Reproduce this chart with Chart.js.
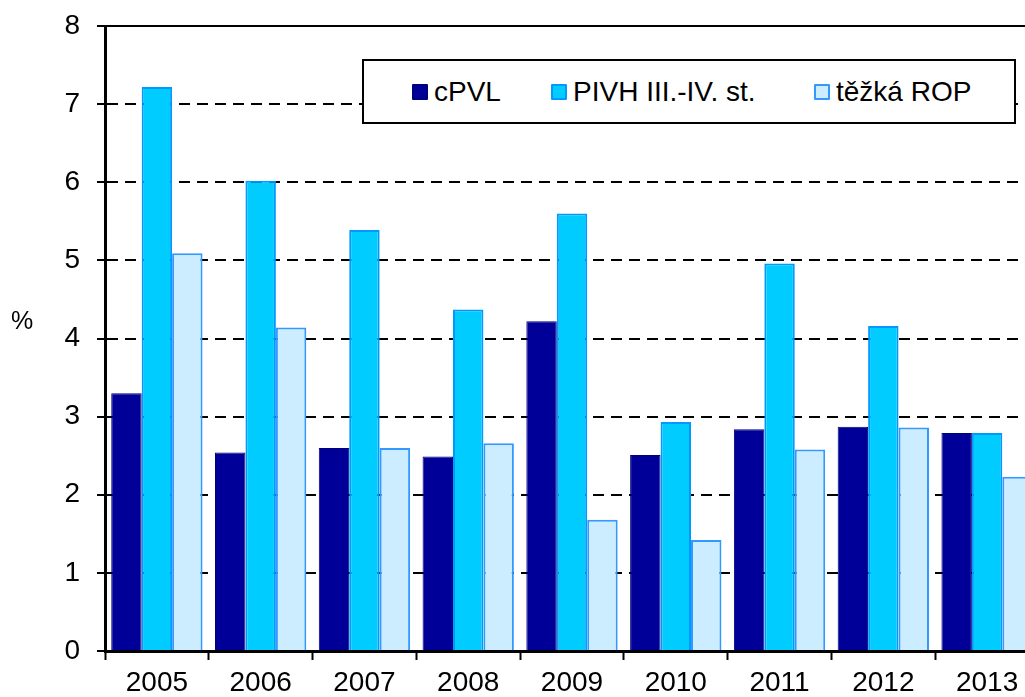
<!DOCTYPE html>
<html>
<head>
<meta charset="utf-8">
<script src="https://cdn.jsdelivr.net/npm/chart.js@4.4.1/dist/chart.umd.min.js"></script>
<style>
  html, body { margin: 0; padding: 0; background: #fff; overflow: hidden; }
  #wrap { position: relative; width: 1045px; height: 697px; }
  #legend {
    position: absolute; left: 362px; top: 59px; width: 650px; height: 61px;
    border: 2px solid #000; background: #fff;
    font-family: "Liberation Sans", Arial, sans-serif; font-size: 28px; color: #000;
  }
  .item { position: absolute; top: 0; height: 61px; display: flex; align-items: center; white-space: nowrap; }
  .box { width: 12px; height: 12px; border: 2px solid; border-radius: 1px; margin-right: 6px; }
  #pct {
    position: absolute; left: 11px; top: 306px;
    font-family: "Liberation Sans", Arial, sans-serif; font-size: 25px; color: #000;
  }
</style>
</head>
<body>
<div id="wrap">
  <canvas id="chart"></canvas>
  <div id="pct">%</div>
  <div id="legend"></div>
</div>
<script>
// data
const years = ["2005", "2006", "2007", "2008", "2009", "2010", "2011", "2012", "2013"];
const cPVL = [3.30, 2.54, 2.60, 2.49, 4.22, 2.51, 2.84, 2.87, 2.79];
const pivh = [7.22, 6.02, 5.39, 4.37, 5.60, 2.93, 4.96, 4.16, 2.79];
const tezkaRop = [5.09, 4.14, 2.60, 2.66, 1.68, 1.42, 2.58, 2.86, 2.23];

const seriesNames = ["cPVL", "PIVH III.-IV. st.", "těžká ROP"];
const fills = ["#000099", "#00CCFF", "#CCECFF"];
const borders = ["#00007A", "#0099FF", "#3399FF"];
const legendLeft = [48, 187, 450]; // px inside legend box

const font = { family: "'Liberation Sans', Arial, sans-serif", size: 28 };

const ctx = document.getElementById("chart");
const chart = new Chart(ctx, {
  type: "bar",
  data: {
    labels: years,
    datasets: [cPVL, pivh, tezkaRop].map((vals, i) => ({
      label: seriesNames[i],
      data: vals,
      backgroundColor: fills[i],
      borderColor: borders[i],
      borderWidth: i === 0 ? 1 : 2,
      categoryPercentage: 0.88,
      barPercentage: 1.0,
    })),
  },
  options: {
    responsive: true,
    maintainAspectRatio: false,
    animation: false,
    layout: { padding: { top: 26, right: 6, left: 0, bottom: 0 } },
    plugins: {
      legend: { display: false },
      tooltip: { enabled: false },
    },
    scales: {
      x: {
        grid: {
          drawOnChartArea: false,
          drawTicks: true,
          tickLength: 9,
          tickColor: "#000",
          tickWidth: 2,
        },
        border: { display: true, color: "#000", width: 3 },
        ticks: { color: "#000", font: font, padding: 6, maxRotation: 0 },
        afterFit: function (scale) {
          scale.height = 46;
          scale.paddingLeft = 0;
          scale.paddingRight = 0;
        },
      },
      y: {
        min: 0,
        max: 8,
        ticks: { stepSize: 1, color: "#000", font: font, padding: 17 },
        grid: {
          color: "#000",
          lineWidth: 2,
          tickLength: 8,
          tickColor: "#000",
          tickWidth: 2,
        },
        border: {
          display: true,
          color: "#000",
          width: 3,
          dash: function (c) {
            return c.tick && c.tick.value === 8 ? [] : [11, 7];
          },
        },
        afterFit: function (scale) {
          scale.width = 105;
          scale.paddingTop = 0;
          scale.paddingBottom = 0;
        },
      },
    },
  },
});

// legend box built from the datasets
const legend = document.getElementById("legend");
chart.data.datasets.forEach((ds, i) => {
  const item = document.createElement("div");
  item.className = "item";
  item.style.left = legendLeft[i] + "px";
  const box = document.createElement("span");
  box.className = "box";
  box.style.background = ds.backgroundColor;
  box.style.borderColor = ds.borderColor;
  const txt = document.createElement("span");
  txt.textContent = ds.label;
  item.appendChild(box);
  item.appendChild(txt);
  legend.appendChild(item);
});
</script>
</body>
</html>
